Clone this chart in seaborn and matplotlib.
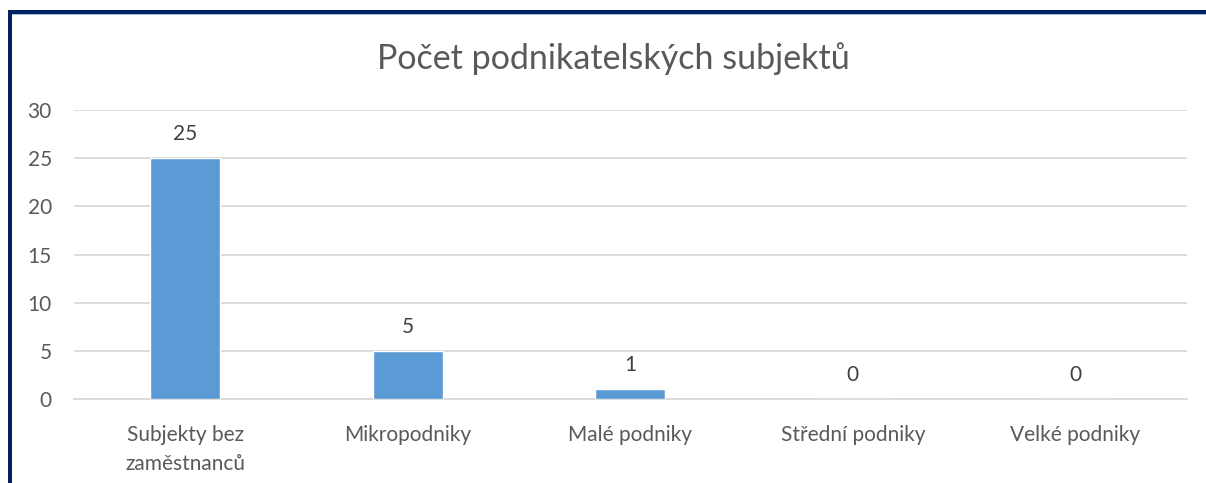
import matplotlib
matplotlib.use("Agg")
import matplotlib.pyplot as plt
import matplotlib.patches as patches
import seaborn as sns
import pandas as pd

categories = ["Subjekty bez\nzaměstnanců", "Mikropodniky", "Malé podniky", "Střední podniky", "Velké podniky"]
values = [25, 5, 1, 0, 0]
title = "Počet podnikatelských subjektů"

sns.set_theme(style="white")
plt.rcParams['font.family'] = ['Lato', 'DejaVu Sans']

df = pd.DataFrame({"kategorie": categories, "pocet": values})

fig = plt.figure(figsize=(12.06, 4.83), dpi=100)
ax = fig.add_axes([0.0614, 0.174, 0.9226, 0.598])

sns.barplot(data=df, x="kategorie", y="pocet", color="#5B9BD5", width=0.314,
            saturation=1, ax=ax, zorder=3)

ax.set_ylim(0, 30)
ax.set_yticks(range(0, 31, 5))
ax.set_xlim(-0.5, len(categories) - 0.5)
ax.grid(axis="y", color="#D9D9D9", linewidth=1.3, zorder=0)
ax.set_axisbelow(True)
for s in ["top", "right", "left"]:
    ax.spines[s].set_visible(False)
ax.spines["bottom"].set_color("#D9D9D9")
ax.spines["bottom"].set_linewidth(1.3)
ax.tick_params(axis="both", length=0, labelsize=15, labelcolor="#595959")
ax.tick_params(axis="y", pad=16)
ax.tick_params(axis="x", pad=19)
for lbl in ax.get_xticklabels():
    lbl.set_linespacing(1.55)
ax.set_xlabel("")
ax.set_ylabel("")

ax.bar_label(ax.containers[0], labels=[str(v) for v in values], padding=10,
             fontsize=15, color="#404040")

fig.text(0.509, 0.878, title, ha="center", va="center", fontsize=24.5, color="#595959")

# rámeček
fig.add_artist(patches.Rectangle((8 / 1206, 1 - 14 / 483), 1, 4 / 483, transform=fig.transFigure,
                                 color="#002060", lw=0))
fig.add_artist(patches.Rectangle((12 / 1206, 1 - 15 / 483), 1, 1.5 / 483, transform=fig.transFigure,
                                 color="#9DC3E6", lw=0))
fig.add_artist(patches.Rectangle((8 / 1206, 0), 4 / 1206, 1 - 10 / 483, transform=fig.transFigure,
                                 color="#002060", lw=0))

fig.savefig("out.png", dpi=100)
